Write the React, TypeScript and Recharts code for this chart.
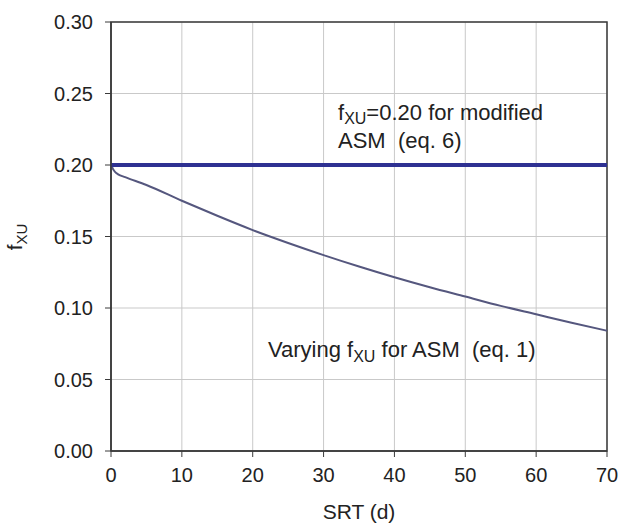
import { LineChart, Line, XAxis, YAxis, CartesianGrid, ReferenceArea } from 'recharts';

// SRT (d) and f_XU
const srtDays = [0, 0.3, 0.6, 1, 2, 5, 10, 15, 20, 25, 30, 35, 40, 45, 50, 55, 60, 65, 70];
const fxuAsm = [0.2, 0.197, 0.195, 0.1935, 0.1915, 0.186, 0.175, 0.1645, 0.1545, 0.1455, 0.137, 0.129, 0.1215, 0.1145, 0.108, 0.1015, 0.0956, 0.0897, 0.0841];

const modifiedSrt = [0, 70];
const modifiedFxu = [0.2, 0.2];

const xTicks = [0, 10, 20, 30, 40, 50, 60, 70];
const yTicks = [0, 0.05, 0.1, 0.15, 0.2, 0.25, 0.3];

const asmData = srtDays.map((srt, i) => ({ srt, fxu: fxuAsm[i] }));
const modData = modifiedSrt.map((srt, i) => ({ srt, fxu: modifiedFxu[i] }));

const FONT = '"Liberation Sans", Arial, sans-serif';
const TEXT = '#222';
const AXIS = '#3a3a3a';

export default function App() {
  return (
    <div style={{ position: 'absolute', left: 0, top: 0, width: 618, height: 528, background: '#fff' }}>
      <LineChart width={618} height={528} margin={{ top: 22, right: 11, bottom: 0, left: 0 }}>
        <CartesianGrid stroke="#c9c9c9" strokeWidth={1} />
        <XAxis
          type="number"
          dataKey="srt"
          domain={[0, 70]}
          ticks={xTicks}
          height={77}
          tickSize={6}
          tickMargin={11}
          tick={{ fill: TEXT, fontSize: 20, fontFamily: FONT }}
          axisLine={{ stroke: AXIS, strokeWidth: 1.5 }}
          tickLine={{ stroke: AXIS }}
        />
        <YAxis
          type="number"
          domain={[0, 0.3]}
          ticks={yTicks}
          width={111}
          tickSize={6}
          tickMargin={12}
          tickFormatter={(v: number) => v.toFixed(2)}
          tick={{ fill: TEXT, fontSize: 20, fontFamily: FONT }}
          axisLine={{ stroke: AXIS, strokeWidth: 1.5 }}
          tickLine={{ stroke: AXIS }}
        />
        <ReferenceArea x1={0} x2={70} y1={0} y2={0.3} fill="none" stroke={AXIS} strokeWidth={1.5} ifOverflow="visible" />
        <Line
          data={asmData}
          dataKey="fxu"
          type="monotone"
          stroke="#55577e"
          strokeWidth={2}
          dot={false}
          isAnimationActive={false}
        />
        <Line
          data={modData}
          dataKey="fxu"
          type="linear"
          stroke="#2e3192"
          strokeWidth={4}
          dot={false}
          isAnimationActive={false}
        />
      </LineChart>
      <svg
        width={618}
        height={528}
        style={{ position: 'absolute', left: 0, top: 0, pointerEvents: 'none' }}
        fontFamily={FONT}
        fill={TEXT}
      >
        <text x={338} y={120} fontSize={22}>
          f<tspan fontSize={16} dy={4}>XU</tspan>
          <tspan dy={-4}>=0.20 for modified</tspan>
        </text>
        <text x={338} y={148} fontSize={22} style={{ whiteSpace: 'pre' }}>
          ASM  (eq. 6)
        </text>
        <text x={268} y={357} fontSize={22} style={{ whiteSpace: 'pre' }}>
          Varying f<tspan fontSize={16} dy={5}>XU</tspan>
          <tspan dy={-5}> for ASM  (eq. 1)</tspan>
        </text>
        <text x={359} y={519} fontSize={21} textAnchor="middle">
          SRT (d)
        </text>
        <text x={22} y={237} fontSize={21} textAnchor="middle" transform="rotate(-90, 22, 237)">
          f<tspan fontSize={15} dy={5}>XU</tspan>
        </text>
      </svg>
    </div>
  );
}
